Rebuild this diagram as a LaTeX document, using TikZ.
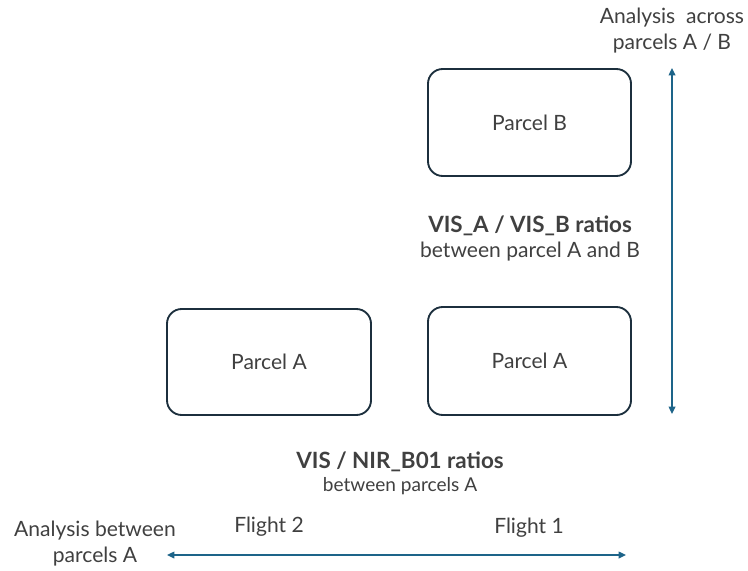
\documentclass[tikz,border=0pt]{standalone}
\usepackage{fontspec}
\setmainfont{Lato}
\usetikzlibrary{arrows.meta}
\definecolor{txt}{HTML}{404040}
\definecolor{edge}{HTML}{1C2F3D}
\definecolor{arr}{HTML}{1D6489}
\begin{document}
\begin{tikzpicture}[x=0.75pt,y=-0.75pt,
  parcel/.style={draw=edge,line width=1.4pt,rounded corners=11pt,fill=white},
  ptext/.style={text=txt,font=\fontsize{15.8}{18}\selectfont},
  lbl/.style={text=txt,align=center,font=\fontsize{15.8}{19.5}\selectfont},
  small/.style={text=txt,align=center,font=\fontsize{14.3}{16}\selectfont},
  bold/.style={text=txt,align=center,font=\fontsize{16.8}{19}\selectfont\bfseries},
  dbl/.style={draw=arr,line width=1pt,{Triangle[length=5.5pt,width=5pt]}-{Triangle[length=5.5pt,width=5pt]}}]
\useasboundingbox (0,0) rectangle (748,570);
\path[parcel] (428,69) rectangle (631,176);
\node[ptext] (pb) at (529.5,122.5) {Parcel B};
\path[parcel] (167,309) rectangle (371,415);
\node[ptext] (pa1) at (269,362) {Parcel A};
\path[parcel] (428,307) rectangle (631,415);
\node[ptext] (pa2) at (529.5,361) {Parcel A};
\coordinate (vt) at (672,68);
\coordinate (vb) at (672,414);
\draw[dbl] (vt) -- (vb);
\coordinate (hl) at (167,555);
\coordinate (hr) at (626,555);
\draw[dbl] (hl) -- (hr);
\node[lbl] (across) at (672,31) {Analysis\ \ across\\parcels A / B};
\node[bold] (visab) at (530,226) {VIS\_A / VIS\_B ratios};
\node[lbl] (betAB) at (530,252) {between parcel A and B};
\node[bold] (visnir) at (400,462) {VIS / NIR\_B01 ratios};
\node[small] (betA) at (400,486) {between parcels A};
\node[lbl] (f2) at (269,527) {Flight 2};
\node[lbl] (f1) at (529,528) {Flight 1};
\node[lbl] (between) at (95,544) {Analysis between\\parcels A};
\end{tikzpicture}
\end{document}
